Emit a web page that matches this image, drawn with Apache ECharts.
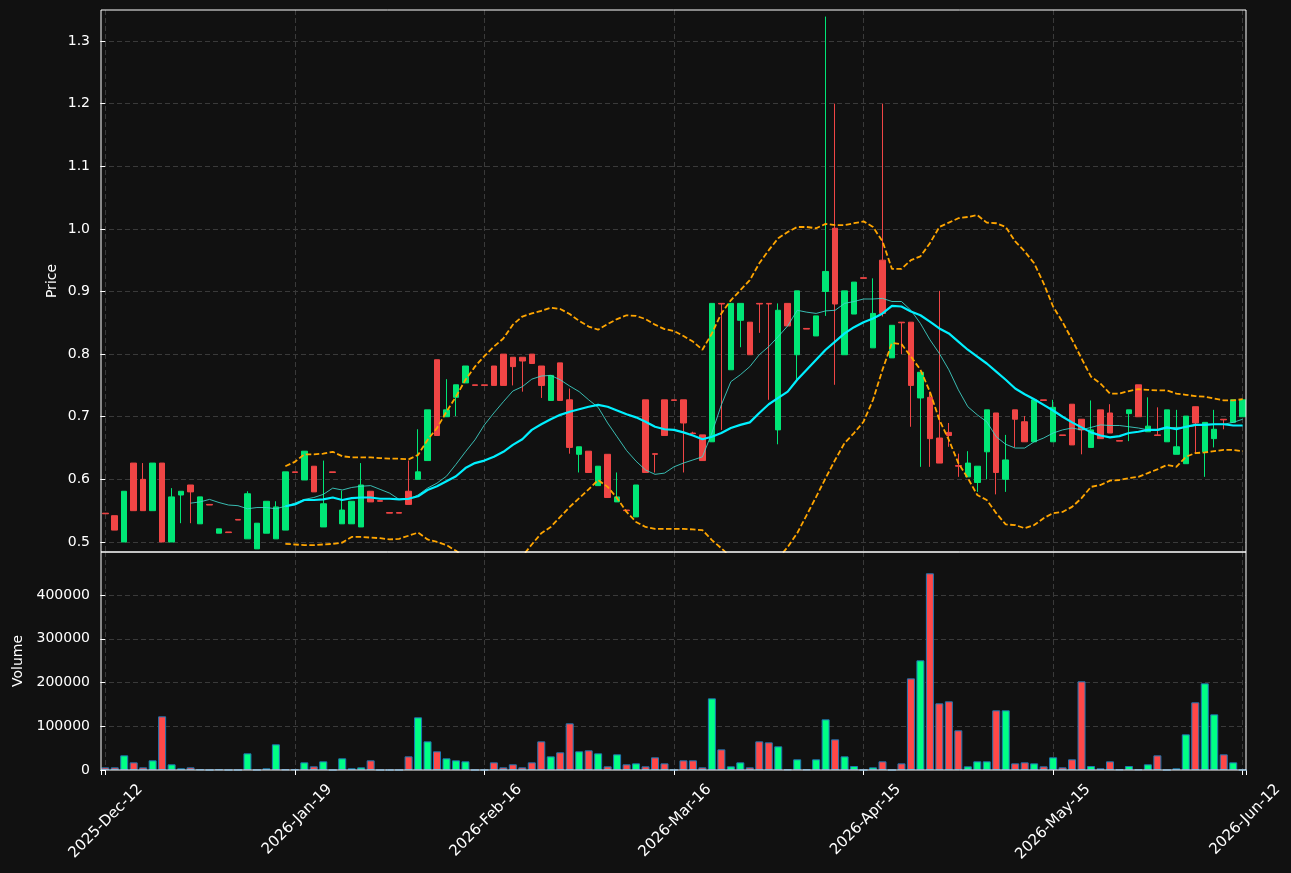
<!DOCTYPE html>
<html><head><meta charset="utf-8">
<script src="https://cdn.jsdelivr.net/npm/echarts@6/dist/echarts.min.js"></script>
<style>html,body{margin:0;padding:0;background:#111111;}#c{width:1291px;height:873px;}</style>
</head><body><div id="c"></div>
<script>
const tickLabels = ['2025-Dec-12','2026-Jan-19','2026-Feb-16','2026-Mar-16','2026-Apr-15','2026-May-15','2026-Jun-12'];

const opens = [0.546,0.542,0.500,0.626,0.600,0.550,0.626,0.500,0.575,0.591,
0.529,0.560,0.514,0.516,0.536,0.505,0.489,0.514,0.505,0.519,
0.612,0.599,0.621,0.524,0.612,0.529,0.529,0.524,0.581,0.566,
0.547,0.547,0.581,0.600,0.630,0.791,0.700,0.731,0.754,0.751,
0.751,0.781,0.800,0.795,0.795,0.800,0.781,0.726,0.786,0.727,
0.640,0.645,0.590,0.640,0.564,0.551,0.540,0.727,0.641,0.727,
0.727,0.727,0.674,0.671,0.660,0.881,0.775,0.854,0.851,0.881,
0.881,0.679,0.881,0.799,0.841,0.829,0.900,1.001,0.799,0.864,
0.922,0.810,0.950,0.794,0.851,0.851,0.730,0.731,0.666,0.675,
0.622,0.604,0.595,0.644,0.706,0.600,0.711,0.692,0.660,0.727,
0.660,0.671,0.720,0.696,0.651,0.711,0.706,0.662,0.705,0.751,
0.676,0.671,0.660,0.640,0.625,0.716,0.644,0.665,0.696,0.691,
0.700];
const closes = [0.545,0.519,0.581,0.550,0.550,0.626,0.500,0.572,0.581,0.580,
0.572,0.559,0.521,0.515,0.535,0.577,0.530,0.565,0.556,0.612,
0.611,0.645,0.580,0.561,0.611,0.551,0.565,0.591,0.564,0.565,
0.546,0.546,0.560,0.612,0.711,0.670,0.711,0.751,0.781,0.750,
0.750,0.750,0.750,0.780,0.789,0.785,0.750,0.766,0.726,0.651,
0.652,0.611,0.621,0.571,0.572,0.550,0.591,0.611,0.640,0.670,
0.726,0.690,0.673,0.630,0.881,0.880,0.881,0.881,0.799,0.880,
0.880,0.870,0.845,0.901,0.840,0.861,0.932,0.880,0.901,0.915,
0.921,0.865,0.865,0.846,0.850,0.750,0.771,0.665,0.626,0.670,
0.621,0.626,0.621,0.711,0.611,0.631,0.696,0.660,0.727,0.726,
0.715,0.670,0.655,0.679,0.679,0.665,0.674,0.661,0.711,0.700,
0.685,0.670,0.711,0.652,0.701,0.690,0.691,0.680,0.695,0.727,
0.727];
const highs = [0.546,0.542,0.581,0.626,0.626,0.626,0.626,0.586,0.581,0.591,
0.572,0.560,0.521,0.516,0.536,0.581,0.530,0.565,0.565,0.612,
0.612,0.645,0.621,0.630,0.612,0.582,0.565,0.626,0.581,0.566,
0.547,0.547,0.630,0.680,0.711,0.791,0.760,0.751,0.781,0.751,
0.751,0.781,0.800,0.795,0.795,0.800,0.781,0.766,0.786,0.745,
0.652,0.645,0.621,0.640,0.611,0.551,0.591,0.727,0.641,0.727,
0.727,0.727,0.676,0.671,0.881,0.881,0.881,0.881,0.851,0.881,
0.881,0.881,0.881,0.901,0.841,0.861,1.339,1.200,0.901,0.915,
0.922,0.921,1.200,0.846,0.851,0.851,0.771,0.740,0.901,0.690,
0.641,0.645,0.621,0.711,0.706,0.671,0.711,0.701,0.727,0.727,
0.727,0.671,0.720,0.696,0.726,0.711,0.720,0.662,0.711,0.751,
0.731,0.715,0.711,0.711,0.701,0.716,0.691,0.711,0.696,0.727,
0.727];
const lows = [0.545,0.519,0.500,0.550,0.550,0.550,0.500,0.500,0.530,0.530,
0.529,0.559,0.514,0.515,0.535,0.505,0.489,0.514,0.505,0.519,
0.611,0.599,0.580,0.524,0.611,0.529,0.529,0.524,0.564,0.565,
0.546,0.546,0.560,0.600,0.630,0.670,0.700,0.701,0.754,0.750,
0.750,0.750,0.750,0.750,0.740,0.785,0.730,0.726,0.726,0.641,
0.611,0.611,0.590,0.571,0.564,0.550,0.540,0.611,0.611,0.670,
0.726,0.611,0.672,0.630,0.660,0.679,0.775,0.811,0.799,0.834,
0.727,0.656,0.845,0.759,0.840,0.829,0.861,0.751,0.799,0.864,
0.921,0.810,0.860,0.794,0.800,0.684,0.620,0.620,0.626,0.652,
0.604,0.604,0.580,0.600,0.576,0.580,0.651,0.660,0.660,0.726,
0.660,0.670,0.655,0.640,0.651,0.665,0.674,0.661,0.661,0.700,
0.676,0.670,0.660,0.640,0.625,0.642,0.604,0.651,0.680,0.691,
0.700];
const volumes = [6100,6100,33500,17500,6100,22100,122700,13000,3800,6100,
1500,300,1500,300,300,38100,500,3800,58700,1500,
1500,17500,8400,19800,300,26700,3800,6100,22100,300,
300,300,31200,120400,65500,42700,26700,22100,19800,300,
300,17500,6100,13000,6100,17500,65500,31200,40400,106700,
42700,45000,38100,8400,35800,13000,15200,8400,29000,15200,
500,22100,22100,6100,163800,47200,8400,17500,6100,65500,
63200,54100,1500,24400,1500,24400,115800,70100,31200,9100,
300,6100,19800,300,15200,209500,250700,449600,152400,157000,
90700,8400,19800,19800,136400,136400,15200,17500,15200,8400,
29000,6100,24400,202700,9100,3800,19800,1500,9100,1500,
13000,33500,300,3800,81500,154700,198100,127200,35800,17500,
500];

const MA10_START = 9;
const ma10 = [0.562,0.564,0.568,0.563,0.559,0.558,0.553,0.555,0.555,0.553,
0.557,0.562,0.568,0.571,0.576,0.586,0.583,0.587,0.589,0.590,
0.584,0.578,0.568,0.568,0.575,0.586,0.594,0.605,0.624,0.644,
0.663,0.687,0.706,0.724,0.741,0.748,0.760,0.765,0.766,0.759,
0.749,0.740,0.727,0.715,0.690,0.668,0.646,0.629,0.615,0.608,
0.610,0.620,0.626,0.631,0.636,0.674,0.719,0.756,0.767,0.780,
0.799,0.812,0.828,0.845,0.870,0.867,0.865,0.869,0.870,0.881,
0.884,0.888,0.888,0.889,0.884,0.884,0.870,0.849,0.823,0.801,
0.775,0.743,0.716,0.703,0.692,0.668,0.656,0.650,0.650,0.660,
0.666,0.674,0.679,0.682,0.679,0.683,0.687,0.686,0.686,0.684,
0.682,0.679,0.678,0.682,0.683,0.683,0.686,0.688,0.688,0.688,
0.691,0.696];
const MA20_START = 19;
const ma20 = [0.557,0.560,0.567,0.567,0.568,0.571,0.567,0.570,0.571,0.571,
0.569,0.569,0.568,0.569,0.573,0.583,0.589,0.597,0.605,0.618,
0.626,0.630,0.636,0.644,0.655,0.664,0.679,0.688,0.696,0.703,
0.708,0.712,0.716,0.719,0.716,0.710,0.704,0.699,0.692,0.684,
0.680,0.679,0.675,0.670,0.664,0.668,0.674,0.682,0.687,0.691,
0.706,0.720,0.730,0.740,0.759,0.775,0.791,0.807,0.820,0.833,
0.843,0.851,0.857,0.865,0.877,0.876,0.868,0.862,0.852,0.841,
0.833,0.820,0.807,0.796,0.785,0.772,0.759,0.745,0.736,0.728,
0.719,0.710,0.700,0.691,0.683,0.675,0.670,0.667,0.669,0.674,
0.676,0.679,0.679,0.683,0.680,0.684,0.687,0.687,0.688,0.688,
0.686,0.686];
const BB_START = 19;
const bbUpper = [0.621,0.628,0.640,0.640,0.641,0.644,0.637,0.635,0.635,0.635,
0.634,0.633,0.633,0.632,0.639,0.663,0.682,0.708,0.732,0.759,
0.780,0.797,0.812,0.825,0.847,0.860,0.865,0.869,0.874,0.872,
0.864,0.853,0.844,0.839,0.848,0.856,0.862,0.861,0.856,0.847,
0.840,0.837,0.829,0.820,0.807,0.833,0.865,0.886,0.902,0.918,
0.945,0.966,0.985,0.995,1.003,1.003,1.001,1.008,1.006,1.006,
1.009,1.012,1.003,0.980,0.936,0.936,0.950,0.956,0.977,1.003,
1.010,1.017,1.019,1.022,1.010,1.009,1.003,0.980,0.964,0.945,
0.913,0.876,0.851,0.823,0.793,0.764,0.753,0.737,0.737,0.741,
0.744,0.743,0.742,0.742,0.737,0.735,0.733,0.732,0.729,0.726,
0.726,0.728];
const bbLower = [0.497,0.496,0.495,0.495,0.496,0.497,0.499,0.508,0.508,0.507,
0.506,0.504,0.505,0.510,0.515,0.504,0.500,0.495,0.486,0.475,
0.467,0.462,0.459,0.460,0.466,0.477,0.496,0.514,0.524,0.540,
0.556,0.570,0.584,0.599,0.588,0.570,0.548,0.532,0.524,0.521,
0.521,0.521,0.521,0.520,0.519,0.503,0.490,0.476,0.466,0.459,
0.458,0.463,0.474,0.492,0.514,0.543,0.572,0.602,0.631,0.658,
0.674,0.692,0.727,0.775,0.818,0.816,0.796,0.775,0.740,0.695,
0.663,0.626,0.602,0.575,0.567,0.546,0.528,0.527,0.522,0.527,
0.538,0.546,0.548,0.556,0.570,0.588,0.591,0.598,0.599,0.602,
0.604,0.610,0.616,0.623,0.620,0.636,0.642,0.643,0.645,0.647,
0.647,0.645];

const UP = '#00e676', DOWN = '#f04545';
const UP_VOL = '#00ff85', DOWN_VOL = '#ff4848';
const FONT = 'DejaVu Sans';
const X_MIN = -0.45, X_MAX = 120.35;

const candleData = opens.map((o, i) => [i, o, closes[i], lows[i], highs[i]]);
const volData = volumes.map((v, i) => ({
  value: [i, v],
  itemStyle: { color: closes[i] >= opens[i] ? UP_VOL : DOWN_VOL }
}));
const toLine = (arr, start) => arr.map((v, k) => [start + k, v]);

const gridLine = { show: true, showMinLine: false, showMaxLine: false,
  lineStyle: { color: '#3a3a3a', type: [5, 3], width: 1 } };
const labelStyle = { color: '#ffffff', fontFamily: FONT, fontSize: 14 };

const chart = echarts.init(document.getElementById('c'), null, { renderer: 'canvas' });
chart.setOption({
  backgroundColor: '#111111',
  animation: false,
  grid: [
    { left: 101, right: 45, top: 10, height: 542, show: true, borderColor: '#ffffff', borderWidth: 1, backgroundColor: 'transparent', z: 10 },
    { left: 101, right: 45, top: 552, height: 218, show: true, borderColor: '#ffffff', borderWidth: 1, backgroundColor: 'transparent', z: 10 },
    { left: 136, right: 10, top: 552, height: 218, show: false }
  ],
  xAxis: [
    { type: 'value', gridIndex: 0, min: X_MIN, max: X_MAX, splitNumber: 6,
      axisLine: { show: false }, axisTick: { show: false }, axisLabel: { show: false }, splitLine: gridLine },
    { type: 'value', gridIndex: 1, min: X_MIN, max: X_MAX, splitNumber: 6,
      axisLine: { show: false },
      axisTick: { show: true, length: 5, lineStyle: { color: '#ffffff' } },
      axisLabel: { show: false }, splitLine: gridLine },
    { type: 'value', gridIndex: 2, min: X_MIN, max: X_MAX, splitNumber: 6,
      axisLine: { show: false }, axisTick: { show: false }, splitLine: { show: false },
      axisLabel: Object.assign({}, labelStyle, {
        fontSize: 15, rotate: 45, margin: 17, showMinLabel: false, showMaxLabel: false,
        formatter: v => (Math.abs(v % 20) < 1e-6 ? (tickLabels[Math.round(v / 20)] || '') : '')
      }) }
  ],
  yAxis: [
    { type: 'value', gridIndex: 0, min: 0.484, max: 1.3495, splitNumber: 8,
      name: 'Price', nameLocation: 'middle', nameGap: 42, nameMoveOverlap: false,
      nameTextStyle: { color: '#ffffff', fontFamily: FONT, fontSize: 14 },
      axisLine: { show: false },
      axisTick: { show: true, length: 5, lineStyle: { color: '#ffffff' } },
      axisLabel: Object.assign({}, labelStyle, { margin: 11, showMinLabel: false, showMaxLabel: false, formatter: v => v.toFixed(1) }),
      splitLine: gridLine },
    { type: 'value', gridIndex: 1, min: 0, max: 498300, splitNumber: 5,
      name: 'Volume', nameLocation: 'middle', nameGap: 76, nameMoveOverlap: false,
      nameTextStyle: { color: '#ffffff', fontFamily: FONT, fontSize: 14 },
      axisLine: { show: false },
      axisTick: { show: true, length: 5, lineStyle: { color: '#ffffff' } },
      axisLabel: Object.assign({}, labelStyle, { margin: 11, showMaxLabel: false, formatter: v => String(Math.round(v)) }),
      splitLine: gridLine },
    { type: 'value', gridIndex: 2, show: false, min: 0, max: 1 }
  ],
  series: [
    { type: 'candlestick', name: 'OHLC', xAxisIndex: 0, yAxisIndex: 0, data: candleData,
      barWidth: 6, clip: true,
      itemStyle: { color: UP, color0: DOWN, borderColor: UP, borderColor0: DOWN, borderWidth: 1 } },
    { type: 'line', name: 'MA10', xAxisIndex: 0, yAxisIndex: 0, data: toLine(ma10, MA10_START),
      symbol: 'none', lineStyle: { color: '#3fd8cc', width: 1, opacity: 0.85 }, z: 3 },
    { type: 'line', name: 'MA20', xAxisIndex: 0, yAxisIndex: 0, data: toLine(ma20, MA20_START),
      symbol: 'none', lineStyle: { color: '#00f0ff', width: 2.2 }, z: 4 },
    { type: 'line', name: 'BB Upper', xAxisIndex: 0, yAxisIndex: 0, data: toLine(bbUpper, BB_START),
      symbol: 'none', clip: true, lineStyle: { color: '#ffa500', width: 1.8, type: [5.5, 2.5] }, z: 5 },
    { type: 'line', name: 'BB Lower', xAxisIndex: 0, yAxisIndex: 0, data: toLine(bbLower, BB_START),
      symbol: 'none', clip: true, lineStyle: { color: '#ffa500', width: 1.8, type: [5.5, 2.5] }, z: 5 },
    { type: 'bar', name: 'Volume', xAxisIndex: 1, yAxisIndex: 1, data: volData,
      barWidth: 8, itemStyle: { borderColor: '#1f77b4', borderWidth: 1 } }
  ]
});
</script>
</body></html>
